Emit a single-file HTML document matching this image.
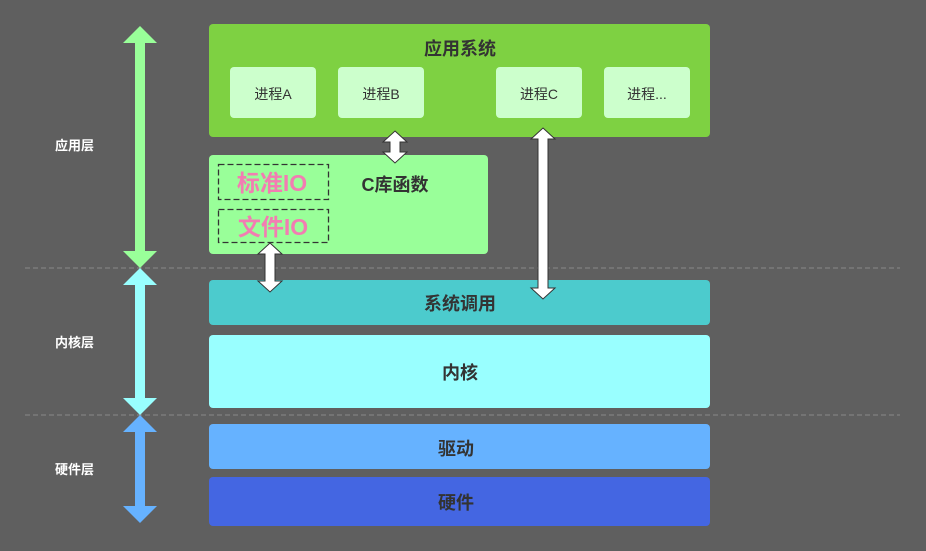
<!DOCTYPE html>
<html><head><meta charset="utf-8"><style>
html,body{margin:0;padding:0;background:#5f5f5f;}
svg{display:block;font-family:"Liberation Sans","Noto Sans CJK SC",sans-serif;}
</style></head><body>
<svg width="926" height="551" viewBox="0 0 926 551" xmlns="http://www.w3.org/2000/svg">
<rect width="926" height="551" fill="#5f5f5f"/>
<line x1="25" y1="268" x2="900" y2="268" stroke="#8a8a8a" stroke-dasharray="5,3"/>
<line x1="25" y1="415" x2="900" y2="415" stroke="#8a8a8a" stroke-dasharray="5,3"/>

<polygon fill="#99ff99" points="140,26 157,43 145,43 145,251 157,251 140,268 123,251 135,251 135,43 123,43"/>
<polygon fill="#99ffff" points="140,268 157,285 145,285 145,398 157,398 140,415 123,398 135,398 135,285 123,285"/>
<polygon fill="#66b2ff" points="140,415 157,432 145,432 145,506 157,506 140,523 123,506 135,506 135,432 123,432"/>
<g fill="#fff" font-size="13" font-weight="bold">
<text x="55" y="150">应用层</text>
<text x="55" y="347">内核层</text>
<text x="55" y="474">硬件层</text>
</g>

<rect x="209" y="24" width="501" height="113" rx="4" fill="#7ed142"/>
<text x="460" y="55" font-size="18" font-weight="bold" fill="#333" text-anchor="middle">应用系统</text>
<g fill="#ccffcc">
<rect x="230" y="67" width="86" height="51" rx="4"/>
<rect x="338" y="67" width="86" height="51" rx="4"/>
<rect x="496" y="67" width="86" height="51" rx="4"/>
<rect x="604" y="67" width="86" height="51" rx="4"/>
</g>
<g font-size="14" fill="#333" text-anchor="middle">
<text x="273" y="99">进程A</text>
<text x="381" y="99">进程B</text>
<text x="539" y="99">进程C</text>
<text x="647" y="99">进程...</text>
</g>

<rect x="209" y="155" width="279" height="99" rx="4" fill="#99ff99"/>
<text x="395" y="191" font-size="18" font-weight="bold" fill="#333" text-anchor="middle">C库函数</text>
<rect x="218.5" y="164.5" width="110" height="35" fill="none" stroke="#333" stroke-width="1.3" stroke-dasharray="6,3"/>
<rect x="218.5" y="209.5" width="110" height="33" fill="none" stroke="#333" stroke-width="1.3" stroke-dasharray="6,3"/>
<g font-size="23" font-weight="bold" fill="#f27db2" text-anchor="middle">
<text x="272" y="191">标准IO</text>
<text x="273" y="235">文件IO</text>
</g>

<rect x="209" y="280" width="501" height="45" rx="4" fill="#4ccbcd"/>
<text x="460" y="310" font-size="18" font-weight="bold" fill="#333" text-anchor="middle">系统调用</text>
<rect x="209" y="335" width="501" height="73" rx="4" fill="#99ffff"/>
<text x="460" y="379" font-size="18" font-weight="bold" fill="#333" text-anchor="middle">内核</text>
<rect x="209" y="424" width="501" height="45" rx="4" fill="#66b2ff"/>
<text x="456" y="455" font-size="18" font-weight="bold" fill="#333" text-anchor="middle">驱动</text>
<rect x="209" y="477" width="501" height="49" rx="4" fill="#4466e2"/>
<text x="456" y="509" font-size="18" font-weight="bold" fill="#333" text-anchor="middle">硬件</text>

<g fill="#fff" stroke="#333" stroke-width="1">
<polygon points="395,131 407,142 400,142 400,152 407,152 395,163 383,152 390,152 390,142 383,142"/>
<polygon points="270,243 282,254 275,254 275,281 282,281 270,292 258,281 265,281 265,254 258,254"/>
<polygon points="543,128 555,139 548,139 548,288 555,288 543,299 531,288 538,288 538,139 531,139"/>
</g>
</svg>
</body></html>
